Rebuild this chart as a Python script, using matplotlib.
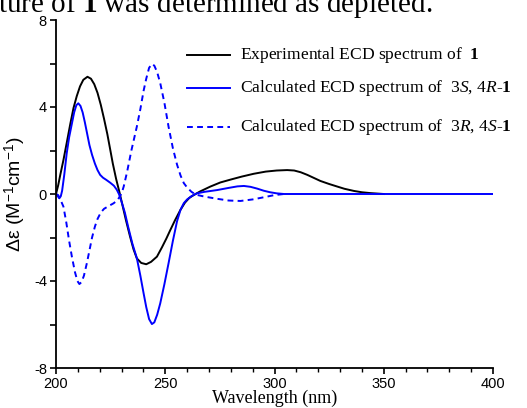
import matplotlib
matplotlib.use("Agg")
import matplotlib.pyplot as plt
from matplotlib.ticker import MultipleLocator, FuncFormatter

plt.rcParams['mathtext.fontset'] = 'custom'
plt.rcParams['mathtext.rm'] = 'Liberation Serif'
plt.rcParams['mathtext.it'] = 'Liberation Serif:italic'
plt.rcParams['mathtext.bf'] = 'Liberation Serif:bold'
plt.rcParams['mathtext.sf'] = 'Liberation Sans'

# Experimental ECD spectrum of 1
exp_wl = [200, 201, 202, 203.4, 205, 206.5, 208, 209.5, 211, 212.5, 214.4, 216, 217.5, 219,
          220.5, 222, 223.5, 224.8, 226, 227.5, 229, 230.5, 232, 233.9, 235.5, 237, 239,
          241.3, 243.5, 246.2, 248.5, 250.5, 252.3, 254.5, 256.9, 259, 261, 263, 266,
          270.6, 275.2, 279.8, 285, 290.5, 296, 301, 305.8, 309, 312, 315, 318, 321, 325,
          328.8, 332, 336.4, 340, 344, 350]
exp_val = [0, 0.4, 0.9, 1.56, 2.4, 3.2, 3.95, 4.5, 4.95, 5.25, 5.39, 5.3, 5.05, 4.65,
           4.1, 3.45, 2.75, 2.05, 1.4, 0.7, 0.1, -0.55, -1.2, -1.96, -2.55, -2.96, -3.17,
           -3.23, -3.12, -2.88, -2.45, -2.05, -1.66, -1.2, -0.74, -0.4, -0.18, -0.05, 0.12,
           0.34, 0.53, 0.66, 0.8, 0.93, 1.03, 1.08, 1.10, 1.08, 1.0, 0.88, 0.74, 0.6, 0.46,
           0.34, 0.24, 0.14, 0.08, 0.04, 0.0]

# Calculated ECD spectrum of 3S,4R-1
s_wl = [200, 200.8, 201.5, 202.2, 202.8, 203.8, 204.9, 206, 207.2, 208.3, 209.3, 210.2,
        211.2, 212.2, 213.2, 214.2, 215.3, 216.5, 217.8, 219, 220.2, 221.5, 223, 224.8,
        226.5, 227.8, 228.8, 230, 231.5, 233, 235, 237, 238.6, 240.1, 241.3, 242.6, 243.9,
        245, 246.3, 247.7, 249.6, 251.5, 253.5, 255.4, 257, 258.5, 260, 262, 264.5, 268,
        273.7, 279, 283, 286, 289, 292, 295.1, 298, 301, 304.3, 400]
s_val = [0, -0.1, -0.2, -0.1, 0.15, 0.9, 1.87, 2.6, 3.2, 3.75, 4.08, 4.17,
         4.05, 3.75, 3.3, 2.8, 2.25, 1.8, 1.4, 1.1, 0.88, 0.75, 0.65, 0.52,
         0.38, 0.2, 0.0, -0.35, -0.85, -1.5, -2.3, -2.95, -3.75, -4.57, -5.2, -5.75, -5.98,
         -5.9, -5.55, -5.03, -4.15, -3.19, -2.15, -1.25, -0.72, -0.42, -0.25, -0.1, 0.03, 0.1,
         0.18, 0.28, 0.35, 0.37, 0.33, 0.25, 0.15, 0.08, 0.03, 0, 0]

# Calculated ECD spectrum of 3R,4S-1
r_wl = [200, 201, 202, 203.4, 204.7, 206, 207.3, 208.7, 209.8, 210.7, 211.7, 212.8, 214.1,
        215.3, 216.5, 217.8, 219, 220.5, 222, 224, 226.3, 228, 229.2, 230.1, 231, 232.5,
        234.5, 237, 238.6, 240.1, 241.3, 242.6, 243.9, 245, 246.3, 247.7, 249.6, 251.5,
        253.5, 255.4, 257, 258.5, 260, 262, 264, 268, 273.7, 279, 284.4, 290, 295.1, 300,
        304.3]
r_val = [0, -0.05, -0.25, -0.58, -1.3, -2.15, -2.9, -3.6, -4.0, -4.14, -4.05, -3.75, -3.19,
         -2.6, -2.0, -1.5, -1.15, -0.85, -0.68, -0.56, -0.43, -0.3, -0.12, 0.05, 0.35, 1.0,
         2.0, 3.1, 3.9, 4.75, 5.3, 5.8, 5.98, 5.9, 5.6, 5.1, 4.2, 3.1,
         2.1, 1.35, 0.85, 0.5, 0.3, 0.1, -0.03, -0.12, -0.22, -0.3, -0.32, -0.25, -0.15, -0.05,
         0]

legend_labels = [r"Experimental ECD spectrum of  $\mathbf{1}$",
                 r"Calculated ECD spectrum of  3$\mathit{S}$, 4$\mathit{R}$-$\mathbf{1}$",
                 r"Calculated ECD spectrum of  3$\mathit{R}$, 4$\mathit{S}$-$\mathbf{1}$"]

fig = plt.figure(figsize=(5.27, 4.08), dpi=100)
ax = fig.add_axes([56/527, 1-368/408, 437/527, 348/408])

lw = 1.4
ax.plot(exp_wl, exp_val, color='black', lw=lw)
ax.plot(s_wl, s_val, color='#0000ff', lw=lw)
ax.plot(r_wl, r_val, color='#0000ff', lw=lw, ls=(0, (3, 2.2)))

ax.set_xlim(200, 400)
ax.set_ylim(-8, 8)
for s in ['top', 'right']:
    ax.spines[s].set_visible(False)
for s in ['left', 'bottom']:
    ax.spines[s].set_linewidth(1.3)

ax.xaxis.set_major_locator(MultipleLocator(50))
ax.xaxis.set_minor_locator(MultipleLocator(10))
ax.yaxis.set_major_locator(MultipleLocator(2))
ax.yaxis.set_major_formatter(FuncFormatter(lambda v, p: f"{int(round(v))}" if int(round(v)) % 4 == 0 else ""))
ax.tick_params(axis='both', which='major', direction='out', length=4.5, width=1.2,
               labelsize=10.5, pad=2)
ax.tick_params(axis='x', which='minor', direction='out', length=3, width=1.0)
for lab in ax.get_xticklabels() + ax.get_yticklabels():
    lab.set_fontfamily('Liberation Sans')

ax.set_xlabel("Wavelength (nm)", fontfamily='Liberation Serif', fontsize=13, labelpad=-1)
ax.set_ylabel("Δε (M$^{\\mathsf{-1}}$cm$^{\\mathsf{-1}}$)", fontfamily='Liberation Sans',
              fontsize=14, labelpad=4)

# legend
rows = [0.899, 0.805, 0.6925]
styles = [dict(color='black', ls='-'), dict(color='#0000ff', ls='-'),
          dict(color='#0000ff', ls=(0, (3, 2.2)))]
for yy, st, lab in zip(rows, styles, legend_labels):
    ax.plot([0.2998, 0.398], [yy, yy], transform=ax.transAxes, lw=lw, clip_on=False, **st)
    ax.text(0.421, yy, lab, transform=ax.transAxes, fontfamily='Liberation Serif',
            fontsize=12.6, va='center', ha='left')

# cropped line of running text above the chart
fig.text(-0.004, 1 - 12/408, r"ture of $\mathbf{1}$ was determined as depleted.",
         fontfamily='Liberation Serif', fontsize=21, va='baseline', ha='left')

fig.savefig("out.png", dpi=100)
